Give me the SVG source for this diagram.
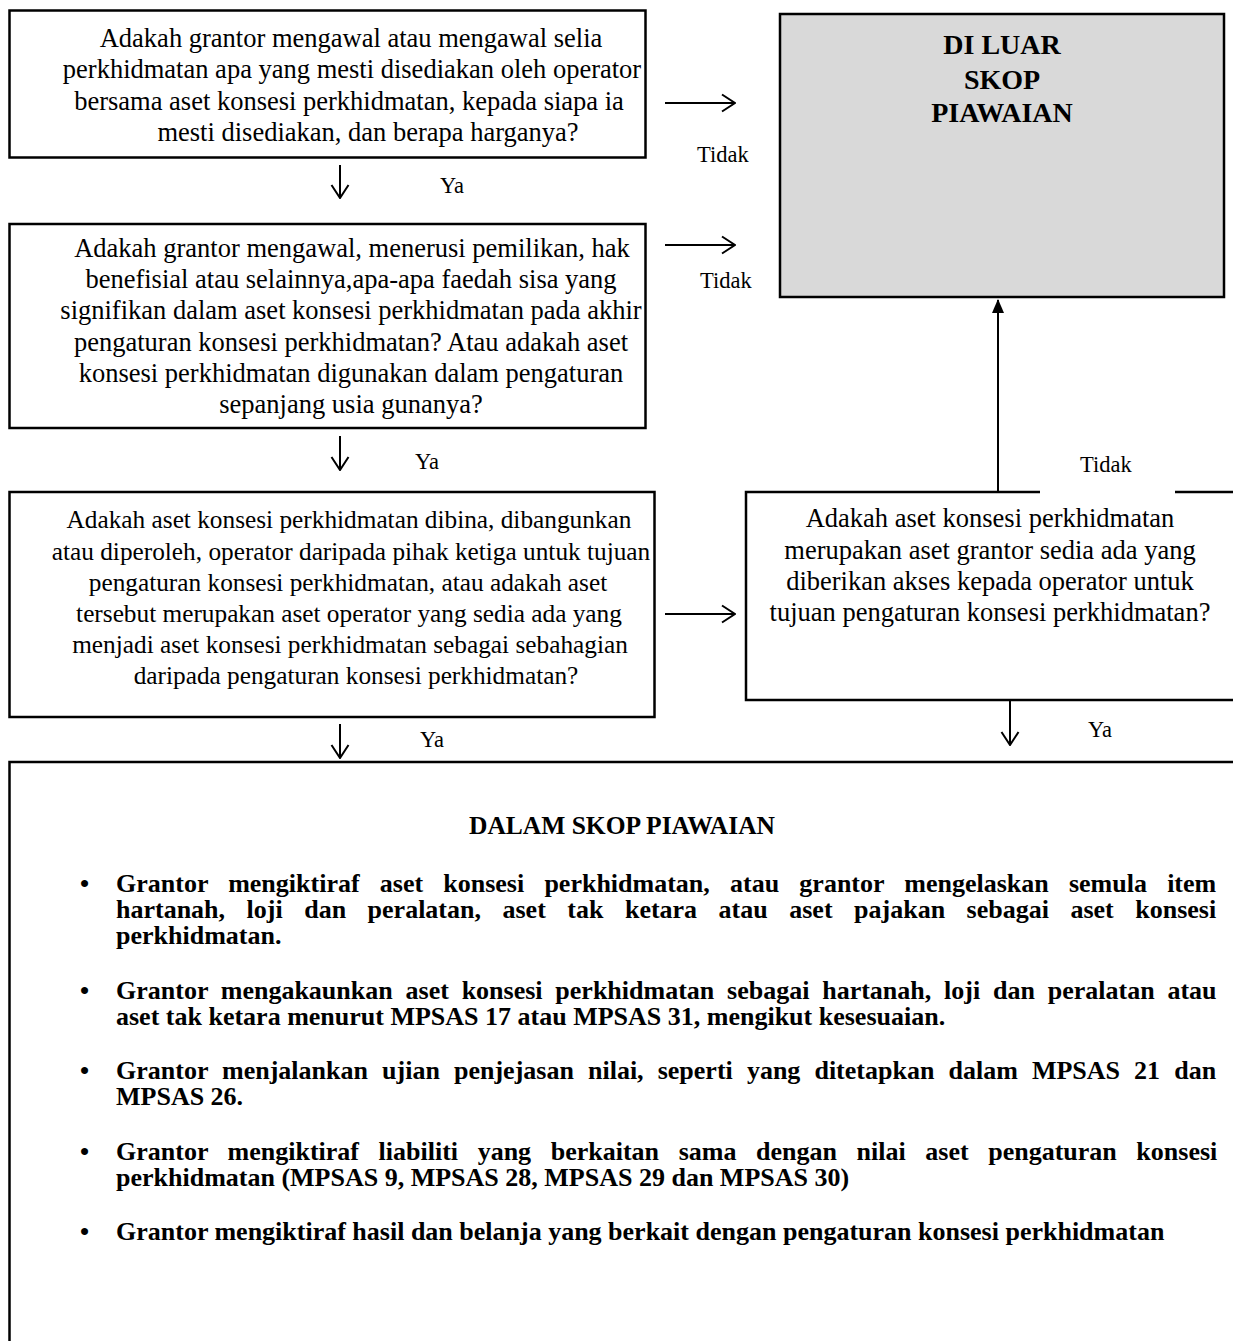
<svg xmlns="http://www.w3.org/2000/svg" width="1233" height="1341" viewBox="0 0 1233 1341">
<style>
.box{fill:#fff;stroke:#000;stroke-width:2.5}
.gray{fill:#d9d9d9;stroke:#000;stroke-width:2.5}
.q{font-family:"Liberation Serif","Times New Roman",serif;font-size:26.5px;fill:#000;text-anchor:middle}
.q3{font-size:25.3px}
.lbl{font-family:"Liberation Serif","Times New Roman",serif;font-size:22.5px;fill:#000}
.hb{font-family:"Liberation Serif","Times New Roman",serif;font-size:28px;font-weight:bold;fill:#000;text-anchor:middle}
.b{font-family:"Liberation Serif","Times New Roman",serif;font-size:26px;font-weight:bold;fill:#000}
.ln{stroke:#000;stroke-width:2;fill:none}
</style>
<defs>
<marker id="open" viewBox="0 0 16 20" refX="15" refY="10" markerWidth="16" markerHeight="20" markerUnits="userSpaceOnUse" orient="auto">
<path d="M2,1.5 L15,10 L2,18.5" fill="none" stroke="#000" stroke-width="2"/>
</marker>
<marker id="solid" viewBox="0 0 14 18" refX="13" refY="9" markerWidth="14" markerHeight="18" markerUnits="userSpaceOnUse" orient="auto">
<path d="M0,3 L14,9 L0,15 z" fill="#000"/>
</marker>
</defs>

<g id="q1">
<rect class="box" x="9.5" y="10.5" width="636" height="147"/>
<text class="q" x="351" y="47">Adakah grantor mengawal atau mengawal selia</text>
<text class="q" x="352" y="78">perkhidmatan apa yang mesti disediakan oleh operator</text>
<text class="q" x="349" y="110">bersama aset konsesi perkhidmatan, kepada siapa ia</text>
<text class="q" x="368" y="141">mesti disediakan, dan berapa harganya?</text>
</g>

<g id="outside">
<rect class="gray" x="780" y="14" width="444" height="283"/>
<text class="hb" x="1002" y="54">DI LUAR</text>
<text class="hb" x="1002" y="89">SKOP</text>
<text class="hb" x="1002" y="122">PIAWAIAN</text>
</g>

<g id="q2">
<rect class="box" x="9.5" y="224" width="636" height="204"/>
<text class="q" x="352" y="257">Adakah grantor mengawal, menerusi pemilikan, hak</text>
<text class="q" x="351" y="288">benefisial atau selainnya,apa-apa faedah sisa yang</text>
<text class="q" x="351" y="319">signifikan dalam aset konsesi perkhidmatan pada akhir</text>
<text class="q" x="351" y="351">pengaturan konsesi perkhidmatan? Atau adakah aset</text>
<text class="q" x="351" y="382">konsesi perkhidmatan digunakan dalam pengaturan</text>
<text class="q" x="351" y="413">sepanjang usia gunanya?</text>
</g>

<g id="q3">
<rect class="box" x="9.5" y="492" width="645" height="225"/>
<text class="q q3" x="349" y="528">Adakah aset konsesi perkhidmatan dibina, dibangunkan</text>
<text class="q q3" x="351" y="560">atau diperoleh, operator daripada pihak ketiga untuk tujuan</text>
<text class="q q3" x="348" y="591">pengaturan konsesi perkhidmatan, atau adakah aset</text>
<text class="q q3" x="349" y="622">tersebut merupakan aset operator yang sedia ada yang</text>
<text class="q q3" x="350" y="653">menjadi aset konsesi perkhidmatan sebagai sebahagian</text>
<text class="q q3" x="356" y="684">daripada pengaturan konsesi perkhidmatan?</text>
</g>

<g id="q4">
<rect class="box" x="746" y="492" width="500" height="208"/>
<line x1="1040" y1="492" x2="1175" y2="492" stroke="#fff" stroke-width="4"/>
<text class="q" x="990" y="527">Adakah aset konsesi perkhidmatan</text>
<text class="q" x="990" y="559">merupakan aset grantor sedia ada yang</text>
<text class="q" x="990" y="590">diberikan akses kepada operator untuk</text>
<text class="q" x="990" y="621">tujuan pengaturan konsesi perkhidmatan?</text>
</g>

<g id="inside">
<rect class="box" x="9.5" y="762" width="1240" height="600"/>
<text class="hb" x="622" y="834" style="font-size:25.5px">DALAM SKOP PIAWAIAN</text>
<text class="b" x="80" y="892">•</text>
<text class="b" x="116" y="892" word-spacing="13.7">Grantor mengiktiraf aset konsesi perkhidmatan, atau grantor mengelaskan semula item</text>
<text class="b" x="116" y="918" word-spacing="15">hartanah, loji dan peralatan, aset tak ketara atau aset pajakan sebagai aset konsesi</text>
<text class="b" x="116" y="944">perkhidmatan.</text>
<text class="b" x="80" y="999">•</text>
<text class="b" x="116" y="999" word-spacing="6.3">Grantor mengakaunkan aset konsesi perkhidmatan sebagai hartanah, loji dan peralatan atau</text>
<text class="b" x="116" y="1025">aset tak ketara menurut MPSAS 17 atau MPSAS 31, mengikut kesesuaian.</text>
<text class="b" x="80" y="1079">•</text>
<text class="b" x="116" y="1079" word-spacing="7.6">Grantor menjalankan ujian penjejasan nilai, seperti yang ditetapkan dalam MPSAS 21 dan</text>
<text class="b" x="116" y="1105">MPSAS 26.</text>
<text class="b" x="80" y="1160">•</text>
<text class="b" x="116" y="1160" word-spacing="13.1">Grantor mengiktiraf liabiliti yang berkaitan sama dengan nilai aset pengaturan konsesi</text>
<text class="b" x="116" y="1186">perkhidmatan (MPSAS 9, MPSAS 28, MPSAS 29 dan MPSAS 30)</text>
<text class="b" x="80" y="1240">•</text>
<text class="b" x="116" y="1240">Grantor mengiktiraf hasil dan belanja yang berkait dengan pengaturan konsesi perkhidmatan</text>
</g>

<g id="labels">
<text class="lbl" x="697" y="162">Tidak</text>
<text class="lbl" x="700" y="288">Tidak</text>
<text class="lbl" x="1080" y="472">Tidak</text>
<text class="lbl" x="440" y="193">Ya</text>
<text class="lbl" x="415" y="469">Ya</text>
<text class="lbl" x="420" y="747">Ya</text>
<text class="lbl" x="1088" y="737">Ya</text>
</g>

<g id="connectors">
<line class="ln" x1="665" y1="103" x2="735" y2="103" marker-end="url(#open)"/>
<line class="ln" x1="665" y1="245" x2="735" y2="245" marker-end="url(#open)"/>
<line class="ln" x1="665" y1="614" x2="735" y2="614" marker-end="url(#open)"/>
<line class="ln" x1="340" y1="165" x2="340" y2="198" marker-end="url(#open)"/>
<line class="ln" x1="340" y1="436" x2="340" y2="470" marker-end="url(#open)"/>
<line class="ln" x1="340" y1="724" x2="340" y2="758" marker-end="url(#open)"/>
<line class="ln" x1="1010" y1="700" x2="1010" y2="745" marker-end="url(#open)"/>
<line class="ln" x1="998" y1="492" x2="998" y2="300" marker-end="url(#solid)"/>
</g>
</svg>
